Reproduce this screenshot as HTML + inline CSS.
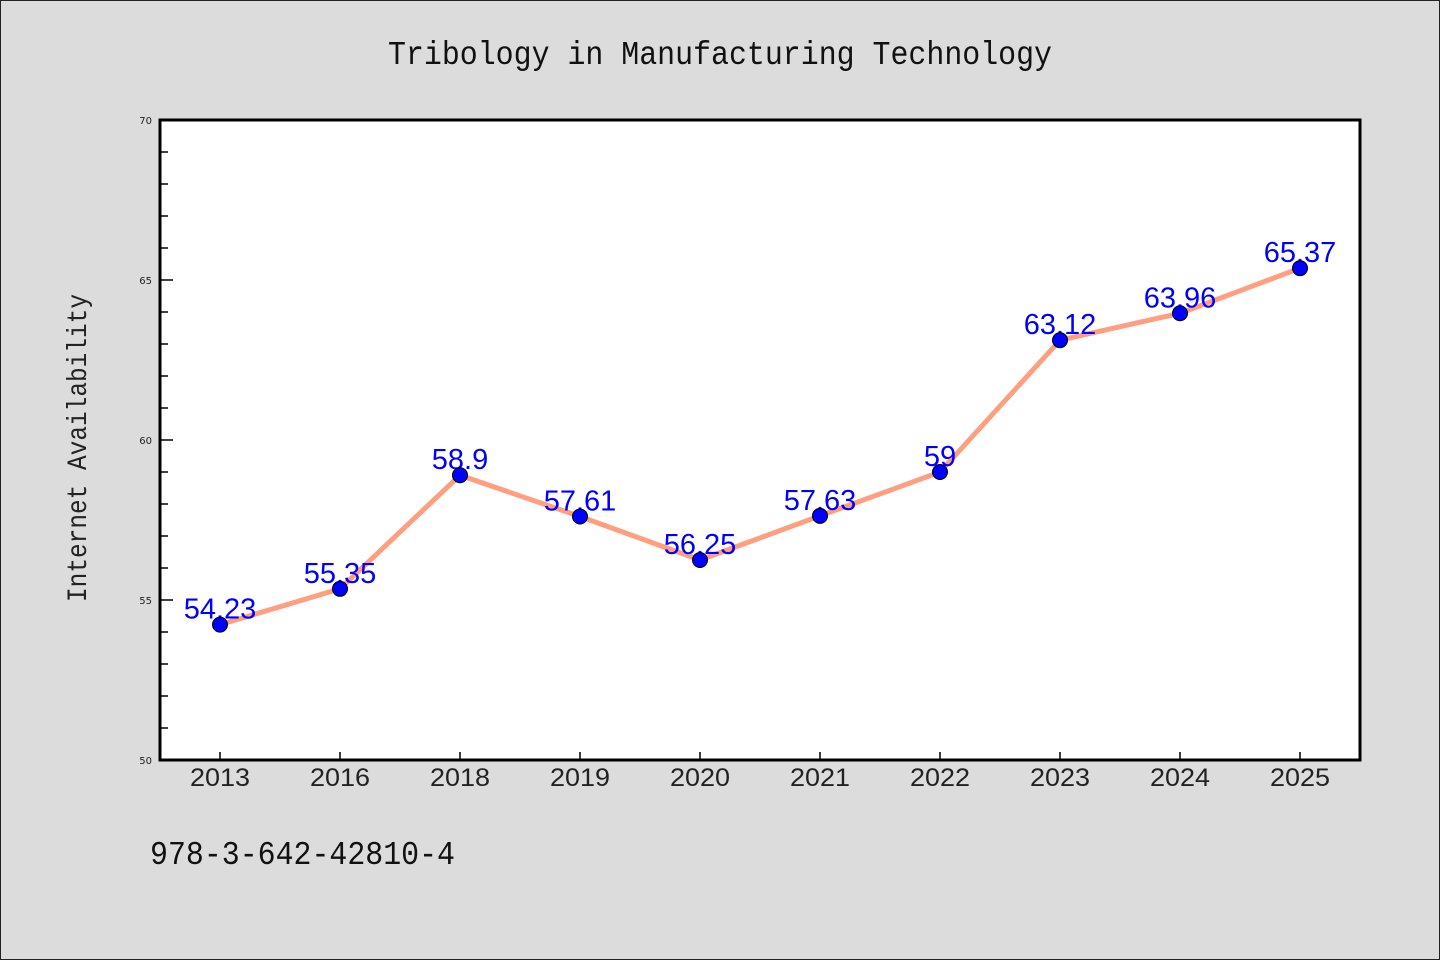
<!DOCTYPE html>
<html><head><meta charset="utf-8"><style>
html,body{margin:0;padding:0;background:#dcdcdc;}
svg{display:block;}
</style></head><body>
<svg width="1440" height="960" viewBox="0 0 1440 960" xmlns="http://www.w3.org/2000/svg">
<rect x="0.5" y="0.5" width="1439" height="959" fill="#dcdcdc" stroke="#222" stroke-width="1"/>
<text x="720" y="64" text-anchor="middle" font-family="'WenQuanYi Zen Hei', 'Liberation Mono', monospace" font-size="33" fill="#111" textLength="664" lengthAdjust="spacingAndGlyphs">Tribology in Manufacturing Technology</text>
<rect x="160" y="120" width="1200" height="640" fill="#fff"/>
<g id="yticks"></g>
<g id="xticks"></g>
<rect x="160" y="120" width="1200" height="640" fill="none" stroke="#000" stroke-width="3"/>
<g id="series"></g>
<text transform="translate(86,448) rotate(-90)" text-anchor="middle" font-family="'WenQuanYi Zen Hei', 'Liberation Mono', monospace" font-size="28" fill="#222" textLength="308" lengthAdjust="spacingAndGlyphs">Internet Availability</text>
<text x="150" y="864" font-family="'WenQuanYi Zen Hei', 'Liberation Mono', monospace" font-size="33" fill="#111" textLength="305" lengthAdjust="spacingAndGlyphs">978-3-642-42810-4</text>
</svg>
<script>
const categories = ["2013","2016","2018","2019","2020","2021","2022","2023","2024","2025"];
const values = [54.23,55.35,58.9,57.61,56.25,57.63,59,63.12,63.96,65.37];
const valueLabels = ["54.23","55.35","58.9","57.61","56.25","57.63","59","63.12","63.96","65.37"];
const yTicks = [50,55,60,65,70];
const yMin = 50, yMax = 70;
const NS = "http://www.w3.org/2000/svg";
const plotLeft = 160, plotRight = 1360, plotTop = 120, plotBottom = 760;
function xPos(i){ return plotLeft + 60 + i * (plotRight - plotLeft - 120) / (categories.length - 1); }
function yPos(v){ return plotBottom - (v - yMin) / (yMax - yMin) * (plotBottom - plotTop); }
function mk(tag, attrs, parent){ const e = document.createElementNS(NS, tag); for (const k in attrs) e.setAttribute(k, attrs[k]); parent.appendChild(e); return e; }
const yg = document.getElementById('yticks');
for (let v = yMin; v <= yMax; v += 1) {
  const major = yTicks.includes(v);
  const y = yPos(v);
  const l = mk('line', {x1: plotLeft, x2: plotLeft + (major ? 13 : 8), y1: y, y2: y, stroke: '#000', 'stroke-width': 1.5}, yg);
  
  
  if (major) {
    const t = mk('text', {x: plotLeft - 8, y: y + 4, 'text-anchor': 'end', 'font-family': 'DejaVu Sans, sans-serif', 'font-size': 10, fill: '#222'}, yg);
    t.textContent = String(v);
    
    
  }
}
const xg = document.getElementById('xticks');
categories.forEach((c, i) => {
  const x = xPos(i);
  const l = mk('line', {x1: x, x2: x, y1: plotBottom, y2: plotBottom - 8, stroke: '#000', 'stroke-width': 1.5}, xg);
  
  
  const t = mk('text', {x: x, y: plotBottom + 26, 'text-anchor': 'middle', 'font-family': "'WenQuanYi Zen Hei', 'Liberation Sans', sans-serif", 'font-size': 25, fill: '#222', textLength: 60, lengthAdjust: 'spacingAndGlyphs'}, xg);
  t.textContent = c;
  
  
});
const sg = document.getElementById('series');
const pts = values.map((v, i) => xPos(i) + ',' + yPos(v)).join(' ');
const seriesLine = mk('polyline', {points: pts, fill: 'none', stroke: '#ff9f7f', 'stroke-width': 5, 'stroke-linejoin': 'round'}, sg);


values.forEach((v, i) => {
  const t = mk('text', {x: xPos(i), y: yPos(v) - 6, 'text-anchor': 'middle', 'font-family': 'Liberation Sans, sans-serif', 'font-size': 29, fill: '#0000ff'}, sg);
  t.textContent = valueLabels[i];
  
  
});
values.forEach((v, i) => {
  const c = mk('circle', {cx: xPos(i), cy: yPos(v), r: 7.5, fill: '#0000ff', stroke: '#000', 'stroke-width': 1}, sg);
  
  
});
</script>
</body></html>
